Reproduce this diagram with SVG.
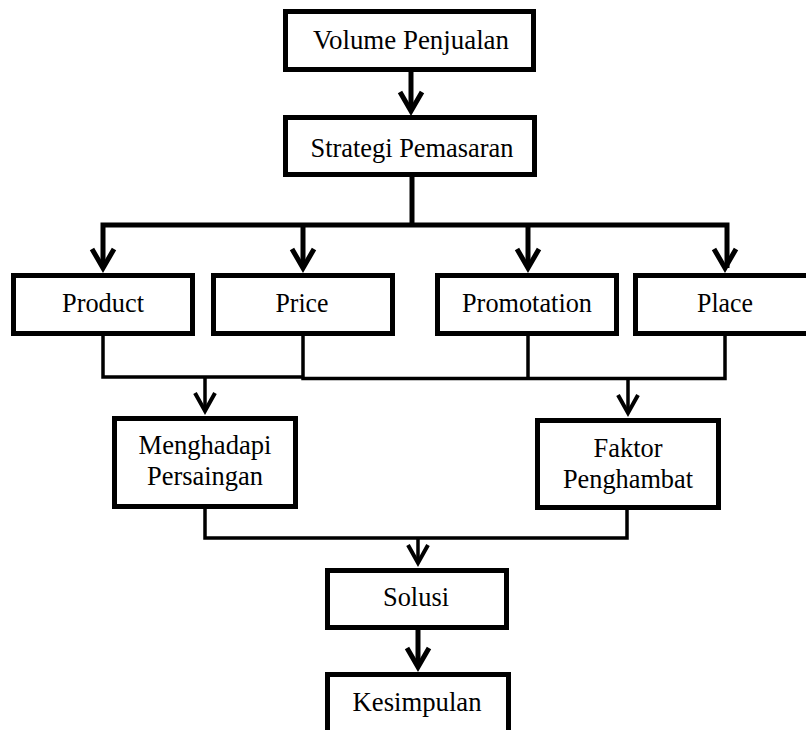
<svg xmlns="http://www.w3.org/2000/svg" width="806" height="730" viewBox="0 0 806 730">
<style>
.box{fill:#fff;stroke:#000;stroke-width:5}
.t{font-family:"Liberation Serif","Times New Roman",serif;font-size:28px;fill:#000;text-anchor:middle}
.thick{fill:none;stroke:#000;stroke-width:5}
.thin{fill:none;stroke:#000;stroke-width:3.5}
.head{fill:none;stroke:#000;stroke-width:5;stroke-linejoin:miter;stroke-linecap:butt}
.headt{fill:none;stroke:#000;stroke-width:4;stroke-linejoin:miter;stroke-linecap:butt}
</style>
<rect width="806" height="730" fill="#fff"/>
<g id="connectors">
  <line class="thick" x1="411" y1="72" x2="411" y2="110"/>
  <polyline class="head" points="400,92 411,111 422,92"/>
  <line class="thick" x1="412" y1="177" x2="412" y2="225"/>
  <polyline class="thick" points="103,268 103,225 727,225 727,268"/>
  <line class="thick" x1="303" y1="225" x2="303" y2="268"/>
  <line class="thick" x1="528" y1="225" x2="528" y2="268"/>
  <polyline class="head" points="92,249 103,268 114,249"/>
  <polyline class="head" points="292,249 303,268 314,249"/>
  <polyline class="head" points="517,249 528,268 539,249"/>
  <polyline class="head" points="714,249 725,268 736,249"/>
  <polyline class="thin" points="103,336 103,377 303,377"/>
  <line class="thin" x1="205" y1="377" x2="205" y2="410"/>
  <polyline class="headt" points="195,393 205,411 215,393"/>
  <polyline class="thin" points="303,336 303,378.5 725,378.5 725,336"/>
  <line class="thin" x1="528" y1="336" x2="528" y2="378"/>
  <line class="thin" x1="628" y1="378" x2="628" y2="412"/>
  <polyline class="headt" points="618,395 628,413 638,395"/>
  <polyline class="thin" points="205,509 205,538 627,538 627,510"/>
  <line class="thin" x1="418" y1="538" x2="418" y2="562"/>
  <polyline class="headt" points="408,545 418,563 428,545"/>
  <line class="thick" x1="418" y1="630" x2="418" y2="666"/>
  <polyline class="head" points="407,648 418,667 429,648"/>
</g>
<g id="volume">
  <rect class="box" x="285.5" y="11.5" width="248" height="58"/>
  <text class="t" x="411" y="49" textLength="196" lengthAdjust="spacingAndGlyphs">Volume Penjualan</text>
</g>
<g id="strategi">
  <rect class="box" x="285.5" y="117.5" width="249" height="57"/>
  <text class="t" x="412" y="157" textLength="203" lengthAdjust="spacingAndGlyphs">Strategi Pemasaran</text>
</g>
<g id="product">
  <rect class="box" x="13.5" y="275.5" width="179" height="58"/>
  <text class="t" x="103" y="312" textLength="82" lengthAdjust="spacingAndGlyphs">Product</text>
</g>
<g id="price">
  <rect class="box" x="213.5" y="275.5" width="179" height="58"/>
  <text class="t" x="302" y="312" textLength="53" lengthAdjust="spacingAndGlyphs">Price</text>
</g>
<g id="promotation">
  <rect class="box" x="437.5" y="275.5" width="179" height="58"/>
  <text class="t" x="527" y="312" textLength="130" lengthAdjust="spacingAndGlyphs">Promotation</text>
</g>
<g id="place">
  <rect class="box" x="635.5" y="275.5" width="179" height="58"/>
  <text class="t" x="725" y="312" textLength="56" lengthAdjust="spacingAndGlyphs">Place</text>
</g>
<g id="menghadapi">
  <rect class="box" x="114.5" y="418.5" width="181" height="88"/>
  <text class="t" x="205" y="454" textLength="133" lengthAdjust="spacingAndGlyphs">Menghadapi</text>
  <text class="t" x="205" y="485" textLength="116" lengthAdjust="spacingAndGlyphs">Persaingan</text>
</g>
<g id="faktor">
  <rect class="box" x="537.5" y="420.5" width="181" height="87"/>
  <text class="t" x="628" y="457" textLength="69" lengthAdjust="spacingAndGlyphs">Faktor</text>
  <text class="t" x="628" y="488" textLength="130" lengthAdjust="spacingAndGlyphs">Penghambat</text>
</g>
<g id="solusi">
  <rect class="box" x="327.5" y="570.5" width="179" height="57"/>
  <text class="t" x="416" y="606" textLength="66" lengthAdjust="spacingAndGlyphs">Solusi</text>
</g>
<g id="kesimpulan">
  <rect class="box" x="327.5" y="674.5" width="181" height="70"/>
  <text class="t" x="417" y="711" textLength="129" lengthAdjust="spacingAndGlyphs">Kesimpulan</text>
</g>
</svg>
